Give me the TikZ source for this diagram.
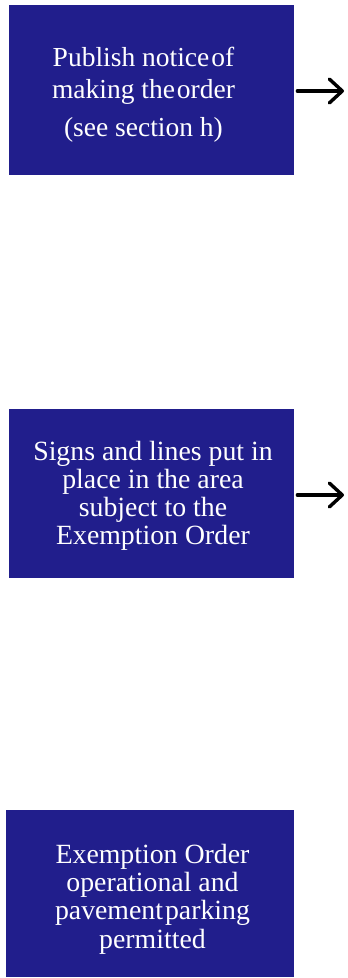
\documentclass[tikz,border=0pt]{standalone}
\usepackage{fontspec}
\setmainfont{Liberation Serif}
\usetikzlibrary{arrows.meta}
\definecolor{boxblue}{RGB}{33,30,140}
\begin{document}
\begin{tikzpicture}[x=1pt,y=-1pt,
  box/.style={fill=boxblue,draw=none,inner sep=0pt,anchor=north west},
  txt/.style={text=white,align=center,inner sep=0pt,font=\fontsize{27.8}{28}\selectfont},
  arr/.style={line width=3.4pt,line cap=round,-{Straight Barb[length=13pt,width=24pt,round]},shorten <=3pt}]
\useasboundingbox (0,0) rectangle (348,978);
\node[box,minimum width=285pt,minimum height=170pt] (b1) at (9,5) {};
\node[box,minimum width=285pt,minimum height=169pt] (b2) at (9,409) {};
\node[box,minimum width=288pt,minimum height=167pt] (b3) at (6,810) {};
\node[txt,anchor=base,font=\fontsize{27.5}{32}\selectfont] (t1) at (143.5,136)
  {Publish notice\kern2pt of\\making the\kern2pt order\\[6pt](see section h)};
\node[txt,anchor=base] (t2) at (153,544)
  {Signs and lines put in\\place in the area\\subject to the\\Exemption Order};
\node[txt,anchor=base,font=\fontsize{27.8}{28.3}\selectfont] (t3) at (152.5,948)
  {Exemption Order\\operational and\\pavement\kern2pt parking\\permitted};
\coordinate (e1) at (344,91);
\coordinate (e2) at (344,495);
\draw[arr] (b1.east |- e1) -- (e1);
\draw[arr] (b2.east |- e2) -- (e2);
\end{tikzpicture}
\end{document}
